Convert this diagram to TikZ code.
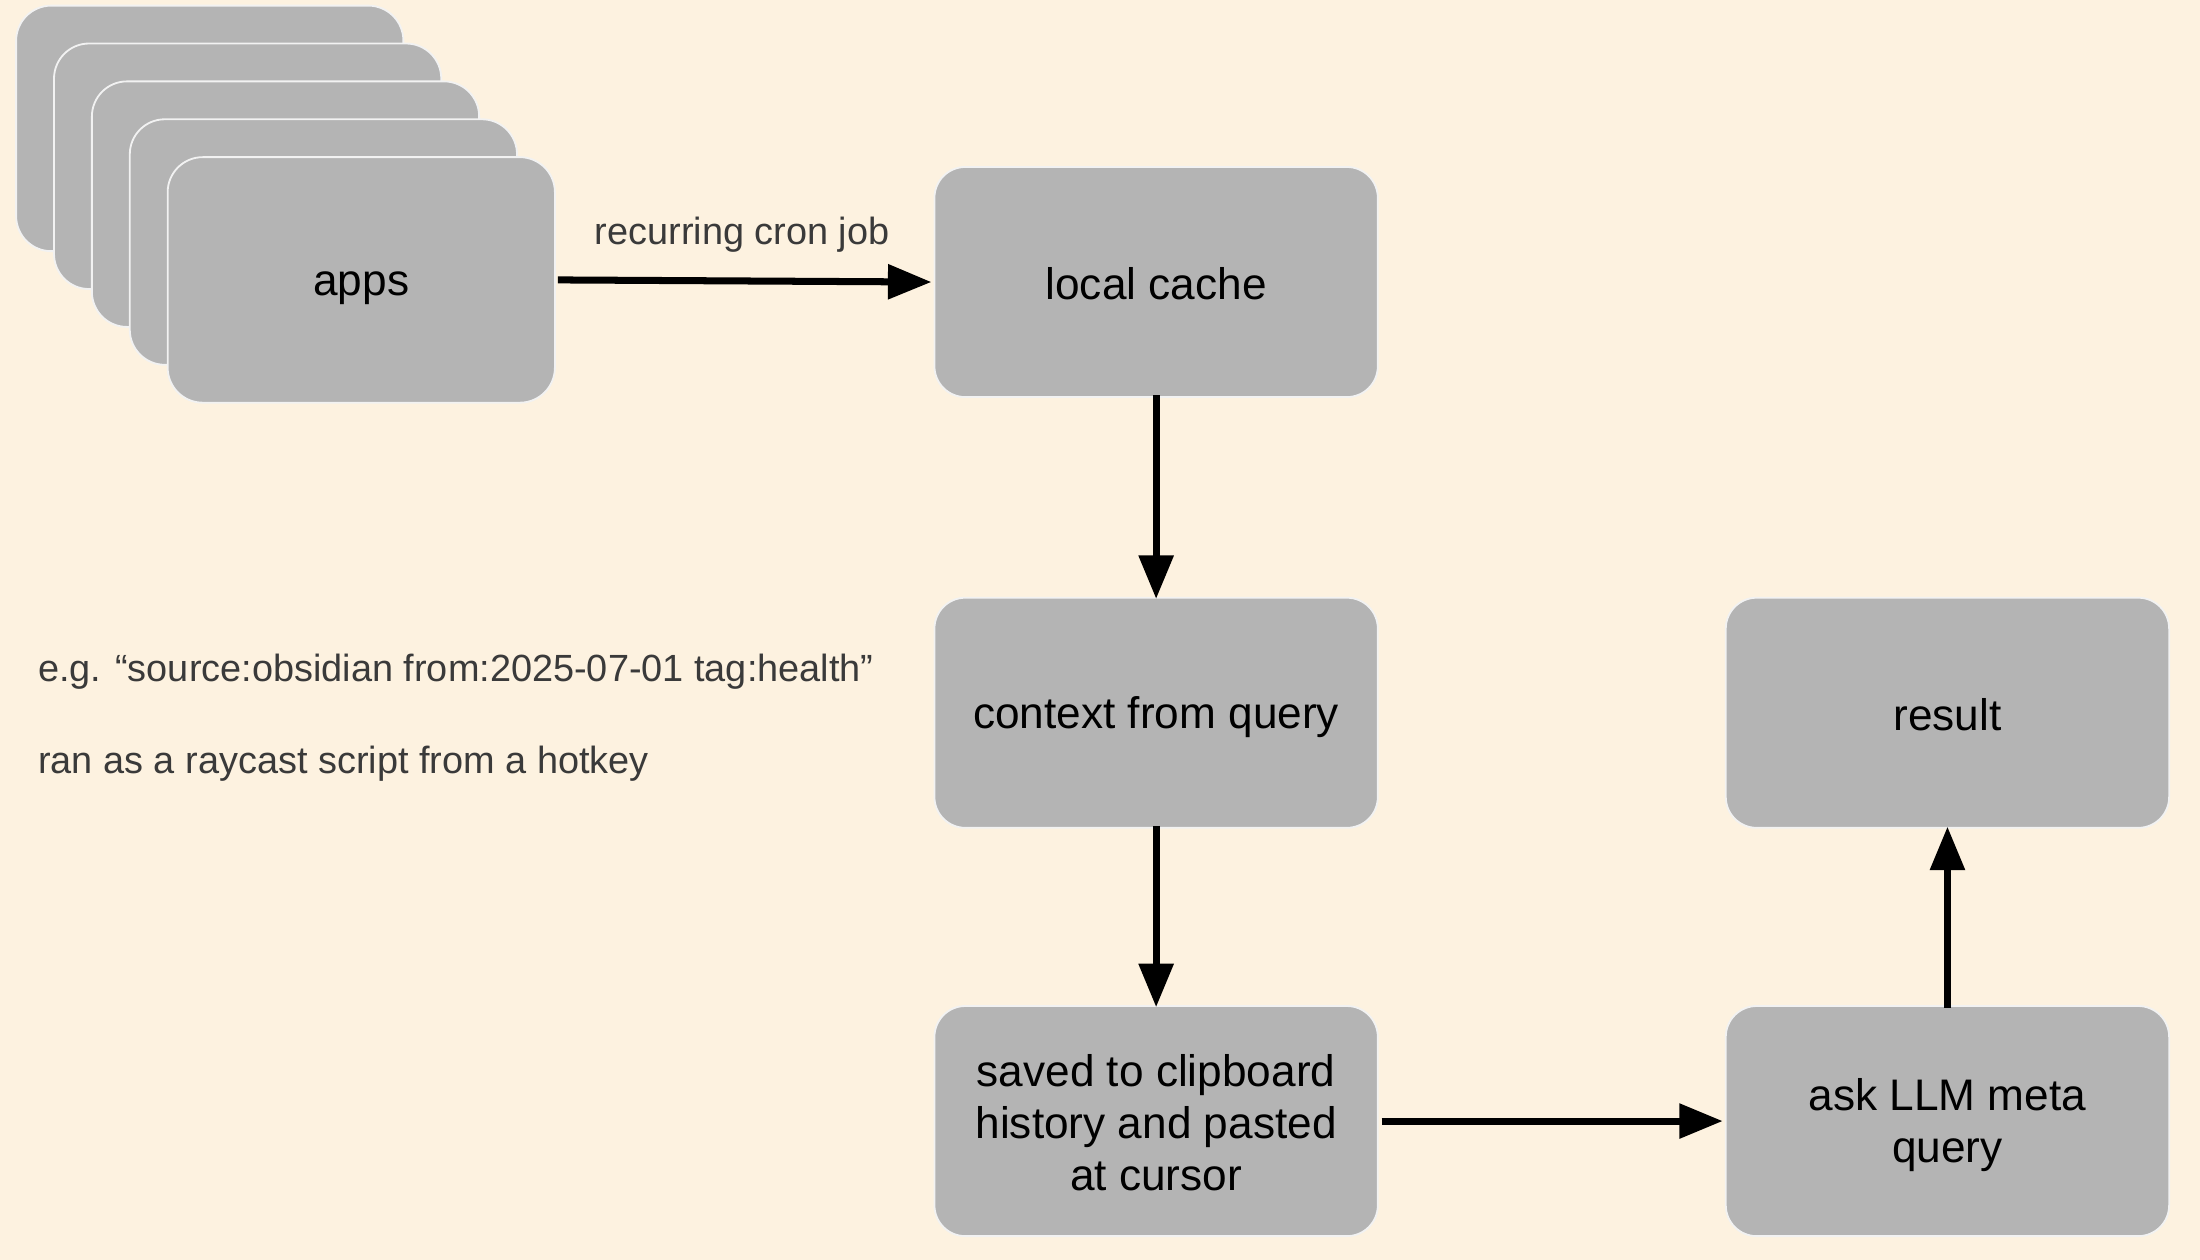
\documentclass[tikz,border=0pt]{standalone}
\usepackage{fontspec}
\setmainfont{Liberation Sans}
\usetikzlibrary{arrows.meta}
\definecolor{bgcol}{HTML}{FDF2E0}
\definecolor{boxfill}{HTML}{B4B4B4}
\definecolor{boxline}{HTML}{F2F2F2}
\definecolor{labelcol}{HTML}{3A3A3A}
\newcommand\bxs{\rule[-4pt]{0pt}{33pt}}
\tikzset{
  card/.style={rectangle, rounded corners=25pt, fill=boxfill, draw=boxline, line width=1.3pt,
    minimum width=276pt, minimum height=175pt, inner sep=0pt, align=center,
    font=\fontsize{31.5}{37}\selectfont},
  stepbox/.style={rectangle, rounded corners=22pt, fill=boxfill, draw=boxline, line width=1.3pt,
    minimum width=316pt, minimum height=164pt, inner sep=0pt, align=center,
    font=\fontsize{31.5}{37}\selectfont},
  flow/.style={line width=5pt, -{Triangle[length=31pt, width=24pt]}},
  note/.style={text=labelcol, font=\fontsize{27}{32}\selectfont, inner sep=0pt}
}
\begin{document}
\begin{tikzpicture}[x=1pt, y=-1pt]
  \fill[bgcol] (0,0) rectangle (1568,898);
  \useasboundingbox (0,0) rectangle (1568,898);

  \node[card] (card1) at (149.5,91.5) {};
  \node[card] (card2) at (176.5,118.5) {};
  \node[card] (card3) at (203.5,145.5) {};
  \node[card] (card4) at (230.5,172.5) {};
  \node[card] (apps)  at (257.5,199.5) {\bxs apps};

  \node[stepbox] (local)   at (824,201) {\bxs local cache};
  \node[stepbox] (context) at (824,508) {\bxs context from query};
  \node[stepbox] (saved)   at (824,799) {\bxs saved to clipboard\\\bxs history and pasted\\\bxs at cursor};
  \node[stepbox] (result)  at (1388,508) {\bxs result};
  \node[stepbox] (ask)     at (1388,799) {\bxs ask LLM meta\\\bxs query};

  \node[note] (cron) at (529,167) {recurring cron job};
  \node[note, anchor=west] (eg)  at (27,479) {e.g. “source:obsidian from:2025-07-01 tag:health”};
  \node[note, anchor=west] (ran) at (27,544) {ran as a raycast script from a hotkey};

  \draw[flow] ([xshift=1.5pt]apps.east) -- ([xshift=-1.5pt]local.west);
  \draw[flow] ([yshift=2pt]local.south) -- ([yshift=-1.5pt]context.north);
  \draw[flow] ([yshift=2pt]context.south) -- ([yshift=-1.5pt]saved.north);
  \draw[flow] ([xshift=2pt]saved.east) -- ([xshift=-1.5pt]ask.west);
  \draw[flow] ([yshift=-2pt]ask.north) -- ([yshift=1.5pt]result.south);
\end{tikzpicture}
\end{document}
